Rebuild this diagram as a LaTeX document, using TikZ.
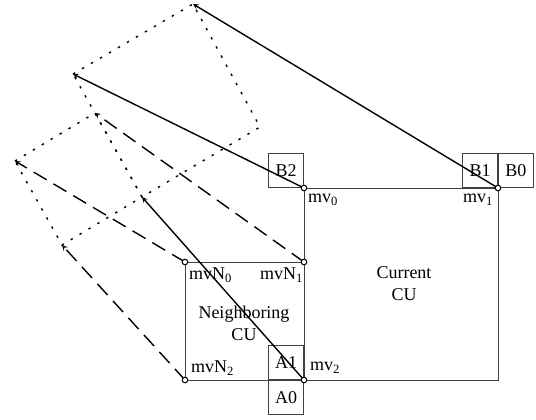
\documentclass[tikz,border=0pt]{standalone}
\usepackage{fontspec}
\setmainfont{Liberation Serif}

\begin{document}
\begin{tikzpicture}[>=stealth, x=1pt, y=-1pt, font=\fontsize{18}{22}\selectfont,
    cand/.style={draw=black!75, line width=0.9pt, inner sep=0pt, minimum width=35pt, minimum height=34pt},
    cuedge/.style={draw=black!75, line width=0.9pt},
    mvline/.style={->, line width=1.4pt},
    nbline/.style={->, line width=1.4pt, dash pattern=on 15pt off 8pt},
    warp/.style={line width=1.4pt, dash pattern=on 2.4pt off 8pt},
    corner/.style={draw, fill=white, line width=1pt}]
  \useasboundingbox (0,0) rectangle (536,420);
  \coordinate (mv0) at (304,188);
  \coordinate (mv1) at (498,188);
  \coordinate (mv2) at (304,380);
  \coordinate (br) at (498,380);
  \coordinate (mvN0) at (185,262);
  \coordinate (mvN1) at (304,262);
  \coordinate (mvN2) at (185,380);
  \coordinate (p0) at (73,74);
  \coordinate (p1) at (193,4);
  \coordinate (p2) at (142,197);
  \coordinate (p3) at (260,127);
  \coordinate (q0) at (15,161);
  \coordinate (q1) at (95,113);
  \coordinate (q2) at (62,245);
  \draw[cuedge] (mv0) -- (mv1) -- (br) -- (mv2) -- cycle;
  \draw[cuedge] (mvN0) -- (mvN1) -- (mv2) -- (mvN2) -- cycle;
  \node[cand, anchor=south east] (B2) at (mv0) {B2};
  \node[cand, anchor=south east] (B1) at (mv1) {B1};
  \node[cand, anchor=south west] (B0) at (mv1) {B0};
  \node[cand, anchor=south east] (A1) at (mv2) {A1};
  \node[cand, anchor=north east] (A0) at (mv2) {A0};
  \node[align=center] (cur) at (404,284) {Current\\CU};
  \node[align=center] (nb) at (244,323) {Neighboring\\CU};
  \node[anchor=north west, inner sep=2pt] (l0) at (306,192) {mv\textsubscript{0}};
  \node[anchor=north east, inner sep=2pt] (l1) at (495,192) {mv\textsubscript{1}};
  \node[anchor=west, inner sep=2pt] (l2) at (308,368) {mv\textsubscript{2}};
  \node[anchor=north west, inner sep=2pt] (n0) at (187,266) {mvN\textsubscript{0}};
  \node[anchor=north east, inner sep=2pt] (n1) at (305,266) {mvN\textsubscript{1}};
  \node[anchor=west, inner sep=2pt] (n2) at (189,368) {mvN\textsubscript{2}};
  \draw[warp] (p0) -- (p1) -- (p3) -- (p2) -- cycle;
  \draw[warp] (q0) -- (q1) -- (p2) -- (q2) -- cycle;
  \draw[mvline] (mv0) -- (p0);
  \draw[mvline] (mv1) -- (p1);
  \draw[mvline] (mv2) -- (p2);
  \draw[nbline] (mvN0) -- (q0);
  \draw[nbline] (mvN1) -- (q1);
  \draw[nbline] (mvN2) -- (q2);
  \foreach \c in {mv0,mv1,mv2,mvN0,mvN1,mvN2}
    \draw[corner] (\c) circle (2.8pt);
\end{tikzpicture}
\end{document}
